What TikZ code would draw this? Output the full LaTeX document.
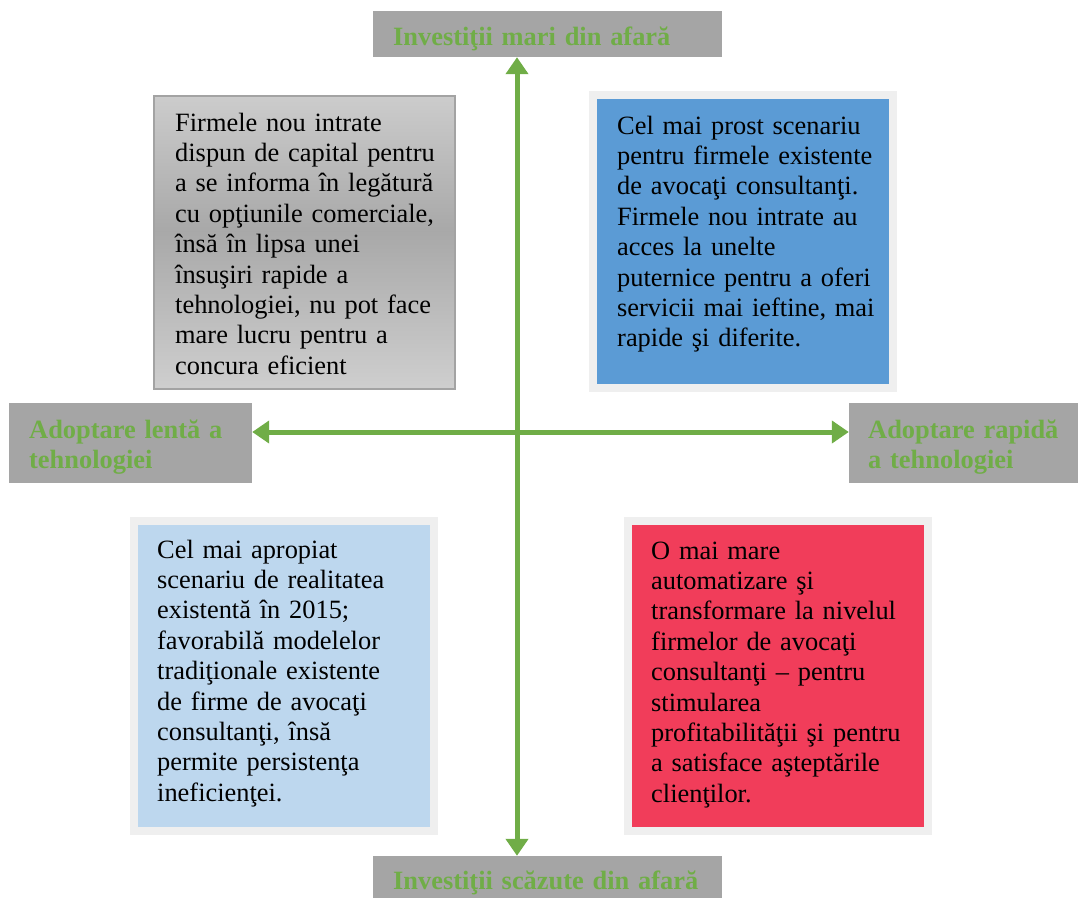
\documentclass[tikz,border=0pt]{standalone}
\usepackage{fontspec}
\setmainfont{Liberation Serif}
\usetikzlibrary{arrows.meta}
\definecolor{lblgray}{HTML}{A5A5A5}
\definecolor{axisgreen}{HTML}{70AD47}
\definecolor{qblue}{HTML}{5B9BD5}
\definecolor{qlight}{HTML}{BDD7EE}
\definecolor{qred}{HTML}{F13D5A}
\definecolor{frame}{HTML}{EFEFEF}
\definecolor{bordergray}{HTML}{A3A3A3}
\pgfdeclareverticalshading{grayband}{100bp}{
  color(0bp)=(black!19); color(25bp)=(black!19); color(52bp)=(black!34);
  color(75bp)=(black!20); color(100bp)=(black!20)}
\begin{document}
\begin{tikzpicture}[x=1pt,y=-1pt,
  lblbox/.style={fill=lblgray, draw=none, inner sep=0pt},
  quad/.style={draw=frame, line width=8pt, inner sep=0pt, minimum width=300pt},
  bodytext/.style={anchor=base west, inner sep=0pt, text width=290pt, align=left,
    font=\fontsize{26.4}{30.4}\selectfont},
  headtext/.style={anchor=base west, inner sep=0pt, text width=340pt, align=left,
    font=\fontsize{26.4}{30.4}\selectfont\bfseries, text=axisgreen},
  axis/.style={draw=axisgreen, line width=5pt,
    {Triangle[width=22pt,length=17pt]}-{Triangle[width=22pt,length=17pt]}}]
\useasboundingbox (0,0) rectangle (1078,897);

% axis labels (boxes)
\node[lblbox, minimum width=349pt, minimum height=46pt] (top) at (547.5,34) {};
\node[lblbox, minimum width=349pt, minimum height=46pt] (bot) at (547.5,879) {};
\node[lblbox, minimum width=243pt, minimum height=80pt] (lft) at (130.5,443) {};
\node[lblbox, minimum width=232pt, minimum height=80pt] (rgt) at (965,443) {};

\node[headtext] (toptxt) at (393,45) {Investiţii mari din afară};
\node[headtext] (bottxt) at (393,889) {Investiţii scăzute din afară};
\node[headtext, text width=220pt] (lfttxt) at (29,438) {Adoptare lentă a\\tehnologiei};
\node[headtext, text width=205pt] (rgttxt) at (868,438) {Adoptare rapidă\\a tehnologiei};

% quadrant boxes
\node[draw=bordergray, line width=2pt, inner sep=0pt, minimum width=301pt, minimum height=293pt,
      shading=grayband] (tl) at (304.5,242.5) {};
\node[quad, fill=qblue, minimum height=293pt] (tr) at (743,241.5) {};
\node[quad, fill=qlight, minimum height=310pt] (bl) at (284,676) {};
\node[quad, fill=qred, minimum height=310pt] (br) at (777.5,676) {};

\node[bodytext] (tltxt) at (175,131) {Firmele nou intrate\\dispun de capital pentru\\a se informa în legătură\\cu opţiunile comerciale,\\însă în lipsa unei\\însuşiri rapide a\\tehnologiei, nu pot face\\mare lucru pentru a\\concura eficient};
\node[bodytext] (trtxt) at (617,134) {Cel mai prost scenariu\\pentru firmele existente\\de avocaţi consultanţi.\\Firmele nou intrate au\\acces la unelte\\puternice pentru a oferi\\servicii mai ieftine, mai\\rapide şi diferite.};
\node[bodytext] (bltxt) at (157,558) {Cel mai apropiat\\scenariu de realitatea\\existentă în 2015;\\favorabilă modelelor\\tradiţionale existente\\de firme de avocaţi\\consultanţi, însă\\permite persistenţa\\ineficienţei.};
\node[bodytext] (brtxt) at (651,559) {O mai mare\\automatizare şi\\transformare la nivelul\\firmelor de avocaţi\\consultanţi – pentru\\stimularea\\profitabilităţii şi pentru\\a satisface aşteptările\\clienţilor.};

% axes
\coordinate (c) at (517,432);
\draw[axis] (top.south -| c) -- (bot.north -| c);
\draw[axis] (lft.east |- c) -- (rgt.west |- c);
\end{tikzpicture}
\end{document}
